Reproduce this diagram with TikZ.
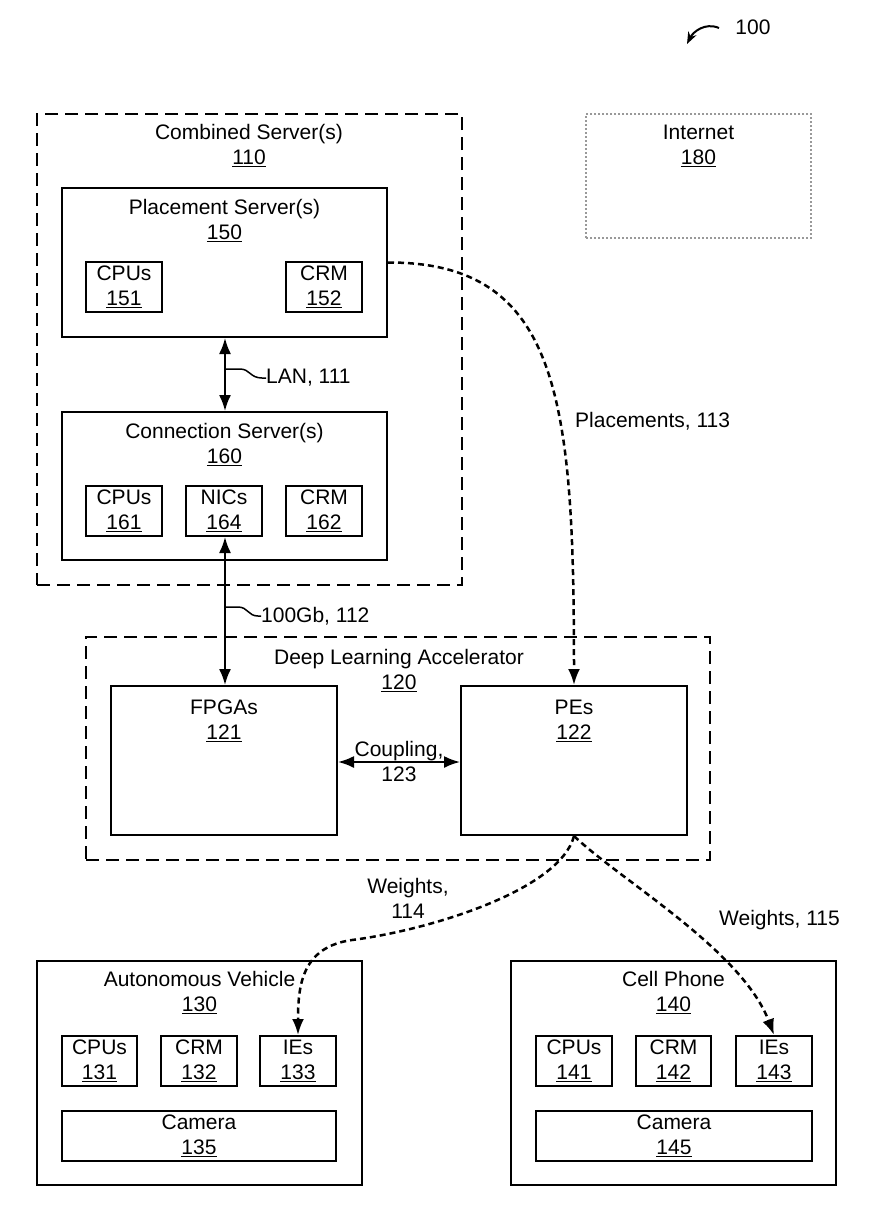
\documentclass[tikz,border=0pt]{standalone}
\usepackage{fontspec}
\setmainfont{Liberation Sans}
\usetikzlibrary{arrows.meta}
\newcommand{\rbox}[6]{\node[#5, minimum width={#3-#1}, minimum height={#4-#2}] (#6) at ({(#1+#3)/2},{(#2+#4)/2}) {};}
\begin{document}
\begin{tikzpicture}[x=1pt,y=-1pt, font=\fontsize{21}{25}\selectfont,
 box/.style={draw, line width=2pt, inner sep=0pt},
 dbox/.style={draw, line width=2pt, dash pattern=on 13pt off 7pt, inner sep=0pt},
 gbox/.style={draw=black!40, line width=1.2pt, dash pattern=on 2pt off 2pt, inner sep=0pt},
 txt/.style={align=center, inner sep=0pt},
 link/.style={line width=2pt, {Latex[length=16pt,width=12pt]}-{Latex[length=16pt,width=12pt]}},
 flow/.style={line width=2.5pt, dash pattern=on 6pt off 4pt, -{Latex[length=16pt,width=12pt]}},
 squig/.style={line width=1.5pt},
]
\useasboundingbox (0,0) rectangle (880,1213);

% reference numeral
\node[txt] (ref) at (753,27) {100};
\coordinate (c100) at (719,28);
\draw[line width=2pt,-{Stealth[length=12pt,width=9pt]}] (c100) .. controls (705,22) and (693,32) .. (687,44);

% combined servers
\rbox{37}{114}{462}{585}{dbox}{cs}
\node[txt] (cst) at (249,145.5) {Combined Server(s)\\\underline{110}};

\rbox{62}{188}{387}{337}{box}{ps}
\node[txt] (pst) at (224.5,220.5) {Placement Server(s)\\\underline{150}};
\rbox{86}{262}{162}{312}{box}{cpu151}
\node[txt] (cpu151t) at (cpu151) {CPUs\\\underline{151}};
\rbox{286}{262}{362}{312}{box}{crm152}
\node[txt] (crm152t) at (crm152) {CRM\\\underline{152}};

\rbox{62}{412}{387}{560}{box}{cns}
\node[txt] (cnst) at (224.5,444.5) {Connection Server(s)\\\underline{160}};
\rbox{86}{486}{162}{536}{box}{cpu161}
\node[txt] (cpu161t) at (cpu161) {CPUs\\\underline{161}};
\rbox{186}{486}{262}{536}{box}{nic164}
\node[txt] (nic164t) at (nic164) {NICs\\\underline{164}};
\rbox{286}{486}{362}{536}{box}{crm162}
\node[txt] (crm162t) at (crm162) {CRM\\\underline{162}};

% internet
\rbox{586}{114}{811}{238}{gbox}{inet}
\node[txt] (inett) at (698.5,145.5) {Internet\\\underline{180}};

% deep learning accelerator
\rbox{86}{637}{710}{860}{dbox}{dla}
\node[txt] (dlat) at (399,670.5) {Deep Learning Accelerator\\\underline{120}};
\rbox{111}{686}{337}{835}{box}{fpga}
\node[txt] (fpgat) at (224,721) {FPGAs\\\underline{121}};
\rbox{461}{686}{687}{835}{box}{pes}
\node[txt] (pest) at (574,721) {PEs\\\underline{122}};

% autonomous vehicle
\rbox{37}{961}{362}{1185}{box}{av}
\node[txt] (avt) at (199.5,992.5) {Autonomous Vehicle\\\underline{130}};
\rbox{62}{1036}{137}{1086}{box}{cpu131}
\node[txt] (cpu131t) at (cpu131) {CPUs\\\underline{131}};
\rbox{161}{1036}{237}{1086}{box}{crm132}
\node[txt] (crm132t) at (crm132) {CRM\\\underline{132}};
\rbox{260}{1036}{336}{1086}{box}{ie133}
\node[txt] (ie133t) at (ie133) {IEs\\\underline{133}};
\rbox{62}{1111}{336}{1161}{box}{cam135}
\node[txt] (cam135t) at (cam135) {Camera\\\underline{135}};

% cell phone
\rbox{511}{961}{836}{1185}{box}{cp}
\node[txt] (cpt) at (673.5,992.5) {Cell Phone\\\underline{140}};
\rbox{536}{1036}{612}{1086}{box}{cpu141}
\node[txt] (cpu141t) at (cpu141) {CPUs\\\underline{141}};
\rbox{636}{1036}{711}{1086}{box}{crm142}
\node[txt] (crm142t) at (crm142) {CRM\\\underline{142}};
\rbox{736}{1036}{812}{1086}{box}{ie143}
\node[txt] (ie143t) at (ie143) {IEs\\\underline{143}};
\rbox{536}{1111}{812}{1161}{box}{cam145}
\node[txt] (cam145t) at (cam145) {Camera\\\underline{145}};

% LAN
\draw[link] (ps.south -| 225,0) -- (cns.north -| 225,0);
\node[txt, anchor=west] (lant) at (266,378) {LAN, 111};
\coordinate (lanA) at (226,369);
\draw[squig] (lanA) -- (240,369) .. controls (250,369) and (250,378) .. (262,378) -- (lant.west);

% 100Gb
\draw[link] (nic164.south -| 225,0) -- (fpga.north -| 225,0);
\node[txt, anchor=west] (gbt) at (261,616) {100Gb, 112};
\coordinate (gbA) at (226,607);
\draw[squig] (gbA) -- (238,607) .. controls (248,607) and (248,616) .. (258,616) -- (gbt.west);

% coupling
\draw[link] (fpga.east |- 0,762) -- (pes.west |- 0,762);
\node[txt] (coupt) at (399,761) {Coupling,\\123};

% placements
\draw[flow] (ps.east) .. controls (560,262) and (574,400) .. (pes.north);
\node[txt, anchor=west] (plt) at (575,421) {Placements, 113};

% weights
\draw[flow] (pes.south) .. controls (560,890) and (430,930) .. (352,940) .. controls (302,947) and (298,985) .. (ie133.north);
\node[txt] (w114t) at (408,898) {Weights,\\114};
\draw[flow] (pes.south) .. controls (620,880) and (742,950) .. (ie143.north);
\node[txt, anchor=west] (w115t) at (719,920) {Weights, 115};
\end{tikzpicture}
\end{document}
